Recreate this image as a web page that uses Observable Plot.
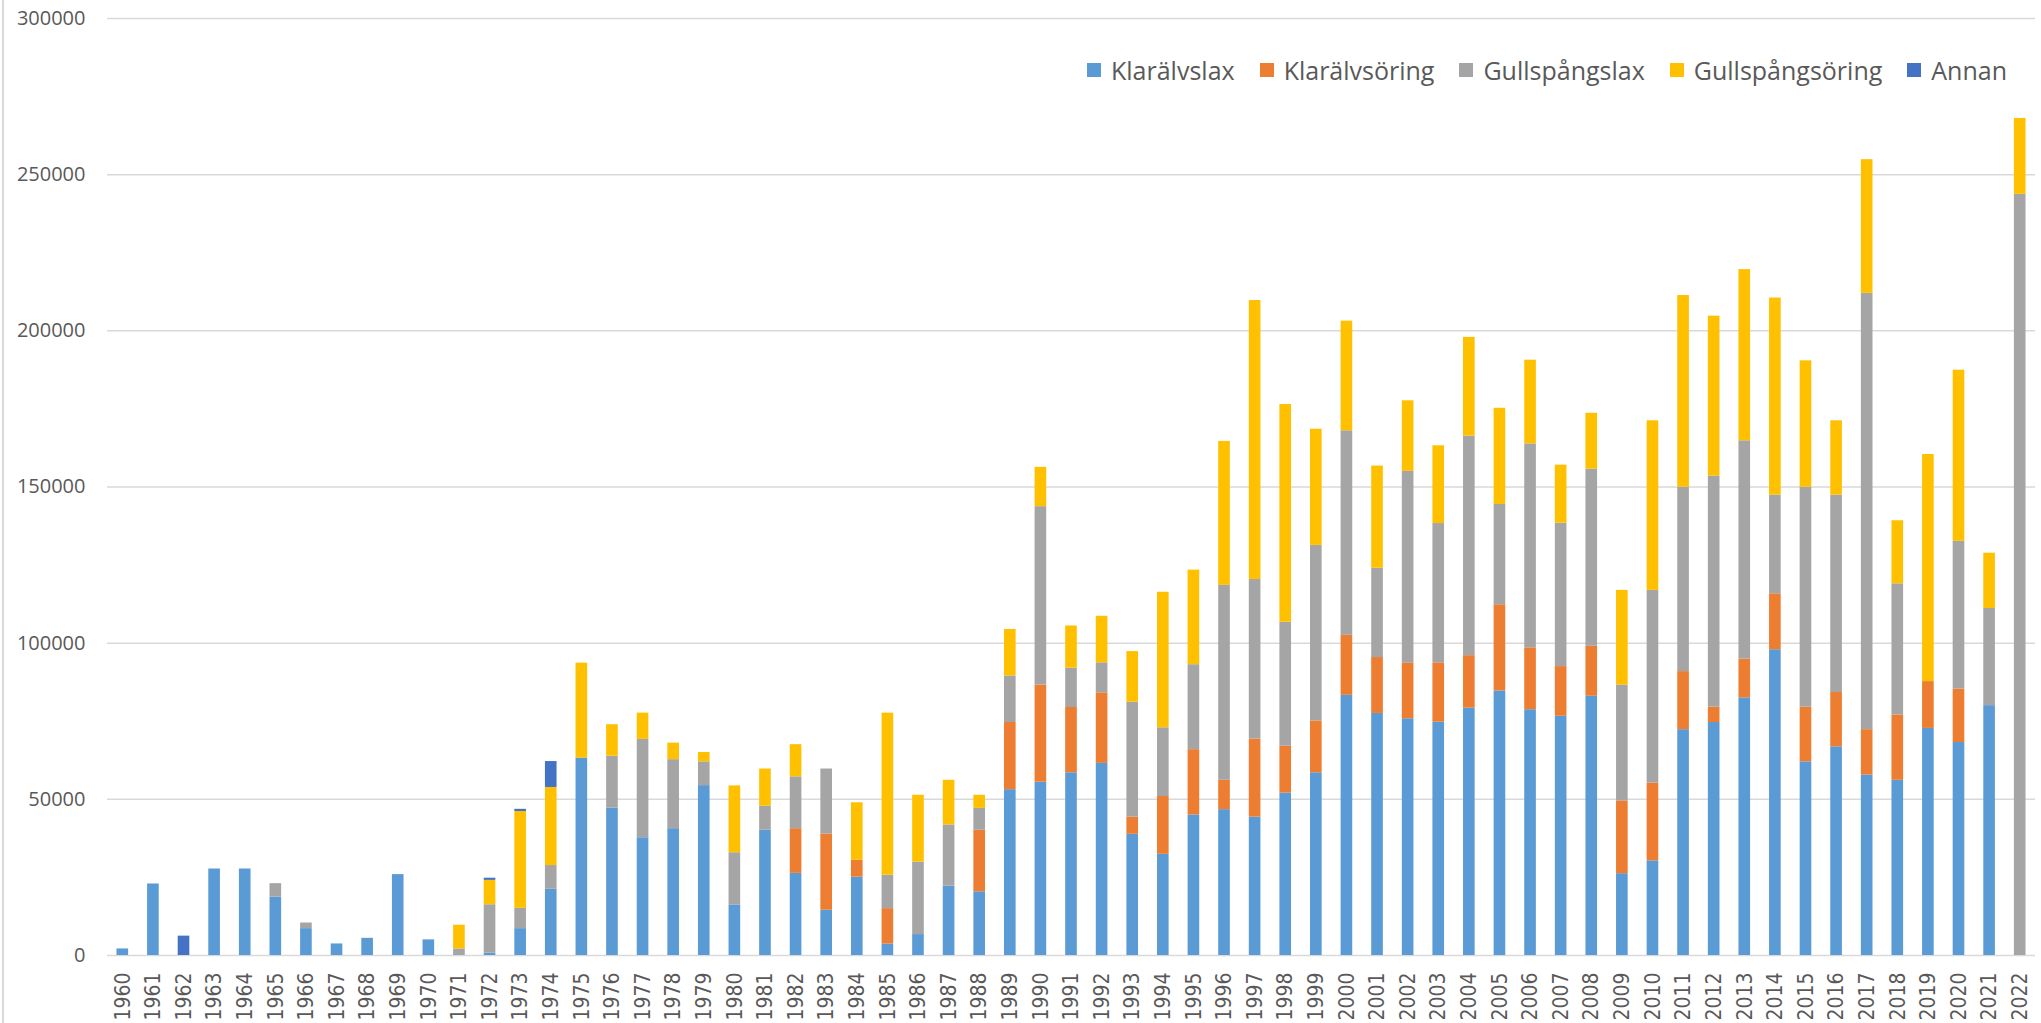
<!DOCTYPE html>
<html>
<head>
<meta charset="utf-8">
<script src="https://cdn.jsdelivr.net/npm/d3@7"></script>
<script src="https://cdn.jsdelivr.net/npm/@observablehq/plot@0.6"></script>
<style>
  html, body { margin: 0; padding: 0; background: #fff; }
  #wrap { position: relative; width: 2041px; height: 1023px; overflow: hidden; }
  #edge { position: absolute; left: 2px; top: 0; width: 2px; height: 1023px; background: #d9d9d9; }
  #legend { position: absolute; left: 1087px; top: 53px; display: flex; align-items: center; gap: 25px;
            font-family: "Open Sans", sans-serif; font-size: 25px; color: #595959; white-space: nowrap; }
  .item { display: flex; align-items: center; gap: 10px; }
  .sw { width: 14px; height: 14px; display: inline-block; }
</style>
</head>
<body>
<div id="wrap">
  <div id="chart"></div>
  <div id="legend"></div>
  <div id="edge"></div>
</div>
<script>
const years = ["1960","1961","1962","1963","1964","1965","1966","1967","1968","1969",
  "1970","1971","1972","1973","1974","1975","1976","1977","1978","1979",
  "1980","1981","1982","1983","1984","1985","1986","1987","1988","1989",
  "1990","1991","1992","1993","1994","1995","1996","1997","1998","1999",
  "2000","2001","2002","2003","2004","2005","2006","2007","2008","2009",
  "2010","2011","2012","2013","2014","2015","2016","2017","2018","2019",
  "2020","2021","2022"];

const seriesNames = ["Klarälvslax","Klarälvsöring","Gullspångslax","Gullspångsöring","Annan"];
const seriesColors = ["#5B9BD5","#ED7D31","#A5A5A5","#FFC000","#4472C4"];

const klaralvslax = [2100,22900,0,27700,27700,18700,8600,3700,5500,25900,
  5000,0,750,8600,21200,63200,47200,37700,40600,54400,
  16200,40100,26300,14500,25100,3700,6700,22200,20400,53100,
  55500,58500,61500,38800,32400,45000,46700,44300,52000,58500,
  83300,77500,75800,74700,79200,84700,78700,76600,83000,26200,
  30300,72300,74600,82500,97900,62000,66800,57800,56100,72700,
  68200,80000,0];

const klaralvsoring = [0,0,0,0,0,0,0,0,0,0,
  0,0,0,0,0,0,0,0,0,0,
  0,0,14300,24400,5400,11300,0,0,19700,21500,
  31100,20900,22600,5500,18500,20900,9400,25000,15000,16600,
  19200,17900,17900,19000,16800,27600,19800,15900,16000,23300,
  24900,18600,4900,12400,17900,17500,17400,14500,20900,15000,
  17100,0,0];

const gullspangslax = [0,0,0,0,0,4300,1800,0,0,0,
  0,2100,15500,6500,7600,0,16600,31500,22100,7600,
  16700,7700,16600,20800,0,10700,23200,19600,7000,14900,
  57100,12600,9600,36800,22000,27200,62400,51100,39700,56200,
  65500,28600,61300,44600,70300,32100,65300,45900,56700,37100,
  61700,59000,74000,69900,31600,70400,63200,139700,42000,0,
  47300,31100,243700];

const gullspangsoring = [0,0,0,0,0,0,0,0,0,0,
  0,7600,7800,31000,25000,30400,10100,8400,5300,3000,
  21400,11900,10300,0,18400,51900,21400,14300,4200,14900,
  12600,13500,14900,16200,43400,30300,46100,89300,69700,37200,
  35100,32700,22600,24900,31600,30800,26800,18600,17900,30300,
  54300,61400,51200,54800,63100,40500,23800,42800,20200,72700,
  54800,17700,24300];

const annan = [0,0,6200,0,0,0,0,0,0,0,
  0,0,700,700,8300,0,0,0,0,0,
  0,0,0,0,0,0,0,0,0,0,
  0,0,0,0,0,0,0,0,0,0,
  0,0,0,0,0,0,0,0,0,0,
  0,0,0,0,0,0,0,0,0,0,
  0,0,0];

const yTicks = [0,50000,100000,150000,200000,250000,300000];

const seriesValues = [klaralvslax, klaralvsoring, gullspangslax, gullspangsoring, annan];
const data = [];
seriesNames.forEach((s, si) => {
  years.forEach((yr, i) => data.push({year: yr, series: s, value: seriesValues[si][i]}));
});

const chart = Plot.plot({
  width: 2041,
  height: 1023,
  marginLeft: 107,
  marginRight: 6,
  marginTop: 18,
  marginBottom: 68,
  style: {fontFamily: "'Open Sans', sans-serif", fontSize: "20px", color: "#595959", background: "#fff"},
  x: {type: "band", domain: years, paddingInner: 0.62, paddingOuter: 0.31, label: null},
  y: {domain: [0, 300000], label: null},
  color: {domain: seriesNames, range: seriesColors},
  marks: [
    Plot.gridY(yTicks, {stroke: "#d9d9d9", strokeOpacity: 1, strokeWidth: 1.5}),
    Plot.barY(data, {x: "year", y: "value", fill: "series", order: seriesNames}),
    Plot.axisY(yTicks, {tickSize: 0, tickPadding: 22, tickFormat: d3.format("d"), fill: "#595959", fontSize: 20, label: null}),
    Plot.axisX({tickSize: 0, tickPadding: 17, tickRotate: -90, fill: "#595959", fontSize: 21,
      fontFamily: "'Liberation Sans Narrow', 'DejaVu Sans Condensed', sans-serif", label: null})
  ]
});
document.getElementById("chart").appendChild(chart);

const legend = document.getElementById("legend");
seriesNames.forEach((s, i) => {
  const item = document.createElement("div");
  item.className = "item";
  const sw = document.createElement("span");
  sw.className = "sw";
  sw.style.background = seriesColors[i];
  const t = document.createElement("span");
  t.textContent = s;
  item.appendChild(sw);
  item.appendChild(t);
  legend.appendChild(item);
});
</script>
</body>
</html>
